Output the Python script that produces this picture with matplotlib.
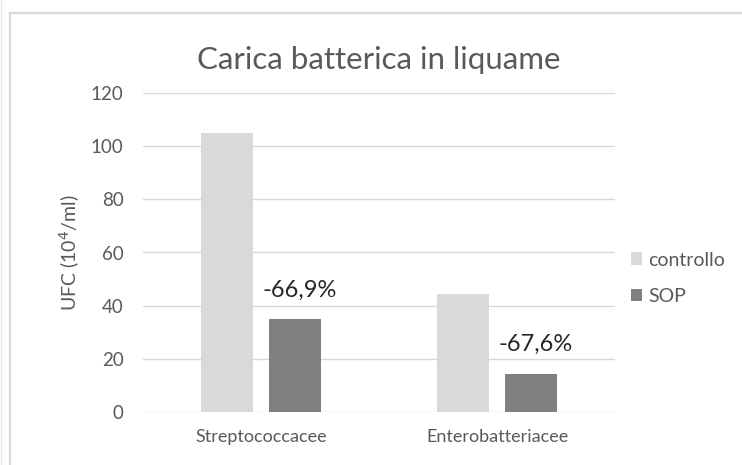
#!/usr/bin/env python3

import numpy as np
import matplotlib
matplotlib.use("Agg")
import matplotlib.pyplot as plt
from matplotlib.lines import Line2D

plt.rcParams.update({
    "figure.dpi": 100,
    "font.family": ["Lato", "DejaVu Sans"],
})

# data
categories = ["Streptococcacee", "Enterobatteriacee"]
controllo = [105, 44.5]
sop = [34.8, 14.4]
riduzioni = ["-66,9%", "-67,6%"]
yticks = [0, 20, 40, 60, 80, 100, 120]

C_CTRL = "#d9d9d9"
C_SOP = "#808080"
C_TEXT = "#595959"
C_GRID = "#d9d9d9"

W, H = 742, 465
fig = plt.figure(figsize=(W / 100, H / 100), dpi=100)

# outer chart frame (Excel-like)
fig.add_artist(Line2D([10 / W, 10 / W], [0, 1 - 13 / H], transform=fig.transFigure,
                      color=C_GRID, lw=1.6))
fig.add_artist(Line2D([10 / W, 1], [1 - 13 / H, 1 - 13 / H], transform=fig.transFigure,
                      color=C_GRID, lw=1.6))
fig.add_artist(Line2D([0.7 / W, 0.7 / W], [0, 1], transform=fig.transFigure,
                      color="#e6e6e6", lw=0.8))

ax = fig.add_axes([143 / W, 1 - 412 / H, (615 - 143) / W, (412 - 93) / H])

x = np.arange(len(categories))
bw = 0.222
off = 0.144
ax.bar(x - off, controllo, bw, color=C_CTRL, label="controllo", zorder=2)
bars = ax.bar(x + off, sop, bw, color=C_SOP, label="SOP", zorder=2)

for b, txt in zip(bars, riduzioni):
    ax.text(b.get_x() + b.get_width() / 2 + 0.02, b.get_height() + 7, txt,
            ha="center", va="bottom", fontsize=17, color="#262626")

ax.set_xlim(-0.5, len(categories) - 0.5)
ax.set_ylim(0, 120)
ax.set_yticks(yticks)
ax.set_xticks(x)
ax.set_xticklabels(categories, fontsize=13, color=C_TEXT)
ax.tick_params(axis="y", labelsize=13.5, labelcolor=C_TEXT, length=0, pad=14)
ax.tick_params(axis="x", length=0, pad=12)
ax.grid(axis="y", color=C_GRID, lw=1, zorder=0)
for s in ax.spines.values():
    s.set_visible(False)

ax.set_ylabel("UFC (10$^4$/ml)", fontsize=14, color=C_TEXT, labelpad=6)

fig.text(379 / W, 1 - 60 / H, "Carica batterica in liquame", ha="center", va="center",
         fontsize=22.5, color=C_TEXT)

ax.legend(loc="upper left", bbox_to_anchor=(613 / W, 1 - 234 / H),
          bbox_transform=fig.transFigure, frameon=False, fontsize=14,
          handlelength=0.6, handleheight=0.6, handletextpad=0.3,
          labelspacing=1.0, labelcolor=C_TEXT)

fig.savefig("out.png", dpi=100)
